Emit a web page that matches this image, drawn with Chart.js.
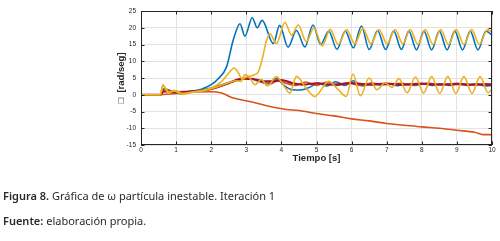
<!DOCTYPE html>
<html>
<head>
<meta charset="utf-8">
<script src="https://cdn.jsdelivr.net/npm/chart.js@4.4.1/dist/chart.umd.min.js"></script>
<style>
  html, body { margin: 0; padding: 0; background: #fff; }
  #wrap { position: relative; width: 500px; height: 241px; overflow: hidden; }
  canvas { position: absolute; left: 0; top: 0; }
  .cap { position: absolute; left: 3px; white-space: nowrap; font-family: "Noto Sans", Lato, sans-serif; color: #2a2a2a; font-size: 11px; }
  .cap b { font-weight: 600; }
</style>
</head>
<body>
<div id="wrap">
  <canvas id="plot" width="500" height="241"></canvas>
  <div class="cap" style="top:188px"><b>Figura 8.</b> Gráfica de ω partícula inestable. Iteración 1</div>
  <div class="cap" style="top:213px"><b>Fuente:</b> elaboración propia.</div>
</div>
<script>
// axis ticks
const xTicks = [0, 1, 2, 3, 4, 5, 6, 7, 8, 9, 10];
const yTicks = [-15, -10, -5, 0, 5, 10, 15, 20, 25];

// blue, large oscillation
const blueBigT = [0, 0.55, 0.65, 0.85, 1.1, 1.4, 1.7, 2.0, 2.2, 2.44, 2.63, 2.82, 2.96, 3.17, 3.31, 3.45, 3.77, 3.95, 4.19, 4.43, 4.67, 4.9, 5.12, 5.35, 5.58, 5.82, 6.05, 6.28, 6.5, 6.74, 6.97, 7.2, 7.42, 7.63, 7.85, 8.06, 8.28, 8.5, 8.72, 8.94, 9.16, 9.38, 9.6, 9.83, 10];
const blueBigW = [0, 0, 1.6, 1.0, 0.6, 1.0, 1.6, 3.0, 4.8, 8.4, 16.4, 21.2, 17.5, 23.0, 20.0, 22.2, 15.3, 20.7, 14.2, 19.2, 14.3, 20.8, 15.0, 19.0, 13.6, 19.0, 14.0, 20.5, 13.5, 19.2, 13.5, 19.0, 13.5, 19.0, 13.4, 19.0, 13.4, 19.0, 13.4, 19.0, 13.4, 19.0, 13.4, 19.0, 17.8];

// yellow, large oscillation
const yellowBigT = [0, 0.55, 0.63, 0.8, 1.0, 1.2, 1.5, 2.0, 2.3, 2.5, 2.65, 2.78, 2.88, 3.0, 3.2, 3.35, 3.45, 3.57, 3.67, 3.86, 4.1, 4.29, 4.48, 4.71, 4.93, 5.16, 5.39, 5.62, 5.86, 6.09, 6.32, 6.55, 6.78, 7.01, 7.24, 7.46, 7.67, 7.89, 8.1, 8.32, 8.54, 8.76, 8.98, 9.2, 9.42, 9.64, 9.87, 10];
const yellowBigW = [0, 0, 2.6, 0.8, 1.2, 0.4, 0.9, 2.0, 4.0, 6.5, 8.0, 6.4, 4.6, 5.3, 5.8, 7.0, 10.5, 16.0, 18.2, 15.3, 21.6, 17.8, 20.8, 15.8, 20.0, 14.6, 19.5, 15.0, 19.5, 15.2, 19.8, 15.2, 19.5, 15.2, 19.5, 15.2, 19.5, 15.0, 19.5, 15.0, 19.5, 15.0, 19.5, 15.0, 19.5, 15.0, 19.5, 18.6];

// orange, drifting down
const orangeDownT = [0, 0.5, 1.0, 1.5, 2.0, 2.3, 2.63, 3.1, 3.58, 4.14, 4.5, 5.0, 5.5, 6.0, 6.5, 7.0, 7.5, 8.0, 8.5, 9.0, 9.5, 9.75, 10];
const orangeDownW = [0, 0, 0.4, 0.8, 0.9, 0.5, -1.0, -2.0, -3.3, -4.4, -4.7, -5.6, -6.3, -7.2, -7.8, -8.6, -9.1, -9.6, -10.0, -10.6, -11.2, -11.9, -11.9];

// blue, small
const blueSmallT = [0, 0.55, 0.65, 0.85, 1.1, 1.3, 1.6, 2.0, 2.4, 2.8, 3.05, 3.3, 3.6, 3.85, 4.05, 4.3, 4.55, 4.8, 5.05, 5.3, 5.55, 5.8, 6.05, 6.3, 6.55, 6.8, 7.05, 7.3, 7.55, 7.8, 8.05, 8.3, 8.55, 8.8, 9.05, 9.3, 9.55, 9.8, 10];
const blueSmallW = [0, 0, 1.8, 1.2, 0.3, 0.8, 1.2, 2.0, 3.3, 4.5, 5.0, 4.2, 3.3, 4.8, 3.0, 1.5, 1.4, 2.2, 3.5, 2.6, 3.9, 2.8, 4.2, 2.6, 3.5, 2.9, 3.3, 2.7, 3.3, 2.8, 3.3, 2.8, 3.3, 2.8, 3.3, 2.8, 3.3, 2.6, 2.8];

// orange, small
const orangeSmallT = [0, 0.55, 0.65, 0.9, 1.2, 1.6, 2.0, 2.4, 2.8, 3.1, 3.4, 3.7, 3.9, 4.1, 4.4, 4.7, 5.0, 5.3, 5.6, 5.9, 6.2, 6.6, 7.0, 7.4, 7.8, 8.2, 8.6, 9.0, 9.4, 9.8, 10];
const orangeSmallW = [0, 0, 1.5, 1.0, 0.5, 1.0, 1.8, 3.0, 4.6, 4.8, 4.0, 3.2, 4.6, 3.5, 2.8, 3.8, 2.8, 3.8, 2.8, 3.6, 2.8, 3.4, 3.0, 3.4, 3.0, 3.4, 3.0, 3.4, 3.0, 3.3, 3.1];

// dark red, small
const redSmallT = [0, 0.55, 0.65, 1.0, 1.5, 2.0, 2.5, 2.9, 3.2, 3.5, 3.8, 4.0, 4.3, 4.6, 5.0, 5.5, 6.0, 6.5, 7.0, 7.5, 8.0, 8.5, 9.0, 9.5, 10];
const redSmallW = [0, 0, 1.0, 0.8, 1.0, 1.7, 3.5, 4.8, 4.7, 4.0, 4.0, 4.4, 3.5, 3.0, 3.4, 3.0, 3.5, 3.0, 3.3, 3.0, 3.3, 3.0, 3.2, 3.0, 3.0];

// yellow, small
const yellowSmallT = [0, 0.55, 0.62, 0.78, 0.92, 1.16, 1.4, 1.7, 2.0, 2.4, 2.7, 2.85, 2.96, 3.1, 3.25, 3.43, 3.6, 3.86, 4.05, 4.24, 4.43, 4.7, 4.95, 5.35, 5.62, 5.85, 6.04, 6.25, 6.5, 6.72, 6.95, 7.15, 7.35, 7.58, 7.82, 8.05, 8.28, 8.51, 8.74, 8.97, 9.2, 9.43, 9.66, 9.89, 10];
const yellowSmallW = [0, 0, 3.0, 0.5, 1.3, 0.1, 0.6, 1.0, 1.8, 3.2, 4.2, 4.0, 6.0, 5.0, 3.0, 4.6, 2.6, 5.4, 3.0, 0.5, 5.5, 2.0, -0.5, 4.0, 1.5, -0.5, 6.2, -0.3, 5.0, 1.5, 3.6, 2.2, 4.8, 0.6, 5.3, 0.5, 5.4, 0.4, 5.4, 0.4, 5.4, 0.4, 5.4, 0.6, 1.8];

const pts = (t, w) => t.map((x, i) => ({ x: x, y: w[i] }));

function line(data, color, width) {
    return {
        data: data,
        borderColor: color,
        borderWidth: width,
        fill: false,
        pointRadius: 0,
        cubicInterpolationMode: 'monotone'
    };
}

// MATLAB style box with inward ticks
const boxPlugin = {
    id: 'box',
    afterDraw(chart) {
        const { ctx, chartArea: a, scales: { x, y } } = chart;
        const len = 3.5;
        ctx.save();
        ctx.strokeStyle = '#262626';
        ctx.lineWidth = 1;
        ctx.strokeRect(a.left + 0.5, a.top + 0.5, a.right - a.left - 1, a.bottom - a.top - 1);
        ctx.beginPath();
        xTicks.forEach(v => {
            const px = Math.round(x.getPixelForValue(v)) + 0.5;
            ctx.moveTo(px, a.bottom); ctx.lineTo(px, a.bottom - len);
            ctx.moveTo(px, a.top); ctx.lineTo(px, a.top + len);
        });
        yTicks.forEach(v => {
            const py = Math.round(y.getPixelForValue(v)) + 0.5;
            ctx.moveTo(a.left, py); ctx.lineTo(a.left + len, py);
            ctx.moveTo(a.right, py); ctx.lineTo(a.right - len, py);
        });
        ctx.stroke();
        ctx.restore();
    }
};

const tickFont = { family: '"Liberation Sans", Arial, sans-serif', size: 6.5 };
const titleFont = { family: '"Liberation Sans", Arial, sans-serif', size: 9.5, weight: 'bold' };

new Chart(document.getElementById('plot'), {
    type: 'line',
    data: {
        datasets: [
            line(pts(yellowSmallT, yellowSmallW), '#EDB120', 1.6),
            line(pts(yellowBigT, yellowBigW), '#EDB120', 1.6),
            line(pts(redSmallT, redSmallW), '#A2142F', 2.2),
            line(pts(orangeSmallT, orangeSmallW), '#D95319', 1.6),
            line(pts(blueSmallT, blueSmallW), '#0072BD', 1.6),
            line(pts(orangeDownT, orangeDownW), '#D95319', 1.6),
            line(pts(blueBigT, blueBigW), '#0072BD', 1.6)
        ]
    },
    options: {
        responsive: false,
        animation: false,
        layout: { padding: { left: 110, top: 11, right: 8, bottom: 72 } },
        plugins: { legend: { display: false }, tooltip: { enabled: false } },
        scales: {
            x: {
                type: 'linear',
                min: 0,
                max: 10,
                afterFit: s => { s.height = 24; },
                afterBuildTicks: s => { s.ticks = xTicks.map(v => ({ value: v })); },
                ticks: { font: tickFont, color: '#262626', padding: 1.5, maxRotation: 0, autoSkip: false },
                grid: { color: '#e2e2e2', drawTicks: false },
                border: { display: false },
                title: { display: true, text: 'Tiempo [s]', font: titleFont, color: '#262626', padding: { top: 0, bottom: 4.8 } }
            },
            y: {
                min: -15,
                max: 25,
                afterFit: s => { s.width = 31; },
                afterBuildTicks: s => { s.ticks = yTicks.map(v => ({ value: v })); },
                ticks: { font: tickFont, color: '#262626', padding: 5 },
                grid: { color: '#e2e2e2', drawTicks: false },
                border: { display: false },
                title: { display: true, text: '□  [rad/seg]', font: titleFont, color: '#262626', padding: { top: 5.8, bottom: 0 } }
            }
        }
    },
    plugins: [boxPlugin]
});
</script>
</body>
</html>
